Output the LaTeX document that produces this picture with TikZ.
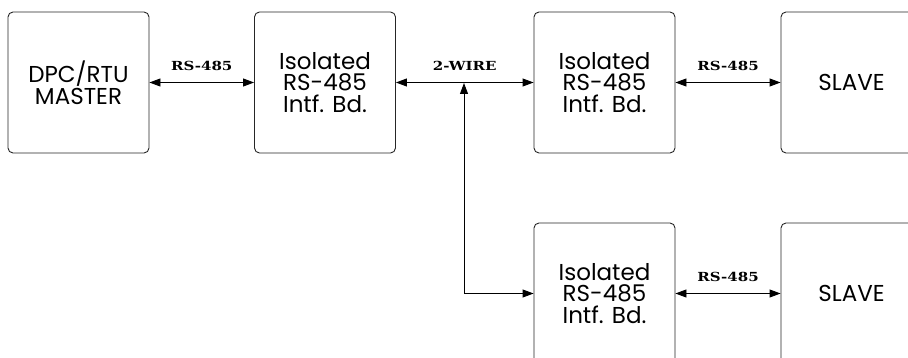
\documentclass[tikz,border=0pt]{standalone}
\usepackage{fontspec}
\newfontfamily\blockfont{Poppins}
\newfontfamily\tagfont{DejaVu Serif}[FakeStretch=1.2]
\usetikzlibrary{arrows.meta}

\begin{document}
\begin{tikzpicture}[x=1pt, y=-1pt,
  block/.style={draw=black!85, line width=0.9pt, rounded corners=5pt,
    minimum width=141pt, minimum height=141pt, inner sep=0pt, align=center,
    font=\blockfont\fontsize{23}{21.5}\selectfont},
  link/.style={line width=0.9pt, {Triangle[length=11pt,width=8pt]}-{Triangle[length=11pt,width=8pt]}},
  feed/.style={line width=0.9pt, -{Triangle[length=11pt,width=8pt]}},
  tag/.style={font=\tagfont\bfseries\fontsize{12.5}{13}\selectfont, inner sep=0pt, above=11.5pt}]
\useasboundingbox (0,0) rectangle (908,358);
\clip (0,0) rectangle (908,358);
% top row: master -> bus -> slave
\node[block] (master) at (78.5,82.5) {DPC/RTU\\MASTER};
\node[block] (isoA) at (325,82.5) {Isolated\\RS-485\\Intf. Bd.};
\node[block] (isoB) at (604.5,82.5) {Isolated\\RS-485\\Intf. Bd.};
\node[block] (slaveB) at (851.5,82.5) {SLAVE};
% bottom row: second drop
\node[block] (isoC) at (604.5,293.5) {Isolated\\RS-485\\Intf. Bd.};
\node[block] (slaveC) at (851.5,293.5) {SLAVE};
\draw[link] (master) -- node[tag] {RS-485} (isoA);
\draw[link] (isoA) -- node[tag] {2-WIRE} (isoB);
\draw[link] (isoB) -- node[tag] {RS-485} (slaveB);
\draw[link] (isoC) -- node[tag] {RS-485} (slaveC);
% branch off the 2-wire bus
\coordinate (tee) at (464,83);
\coordinate (bend) at (464,293.5);
\draw[feed] (bend) -- (tee);
\draw[feed] (bend) -- (isoC);
\end{tikzpicture}
\end{document}
